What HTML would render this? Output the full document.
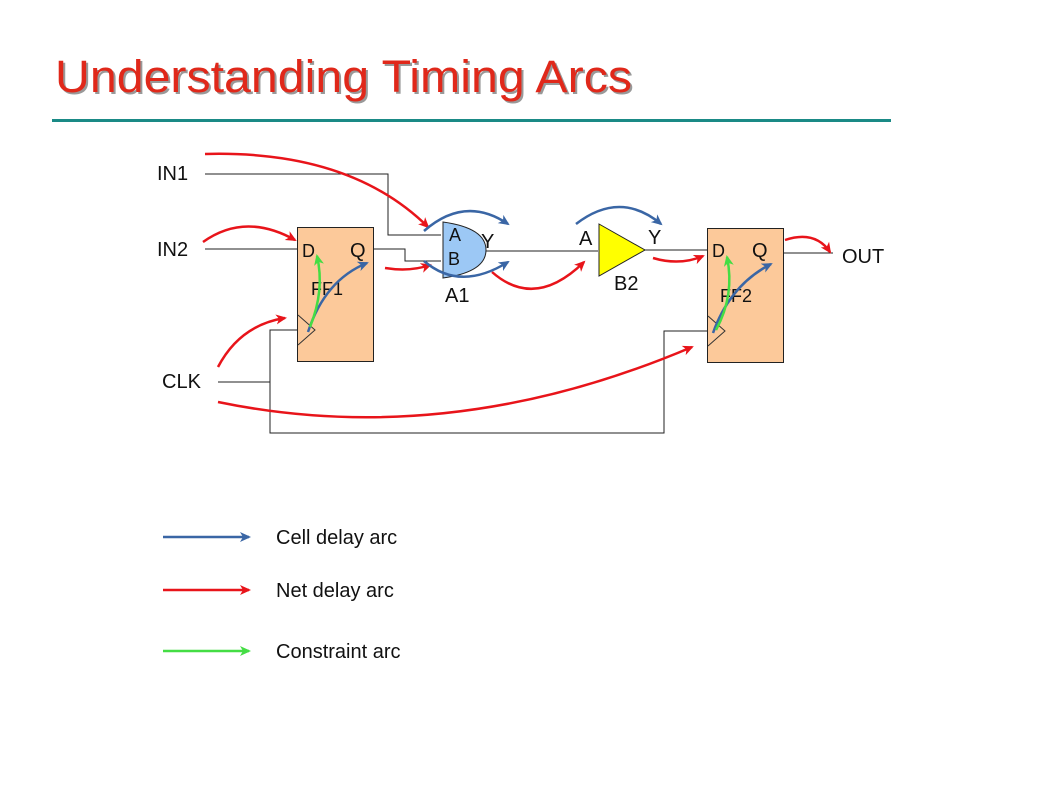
<!DOCTYPE html>
<html><head><meta charset="utf-8"><style>html,body{margin:0;padding:0;background:#fff}svg{display:block}</style></head>
<body>
<svg width="1059" height="795" viewBox="0 0 1059 795" xmlns="http://www.w3.org/2000/svg" font-family="Liberation Sans, Arial, sans-serif">
<defs>
<marker id="r" markerWidth="12" markerHeight="12" refX="9" refY="6" orient="auto" markerUnits="userSpaceOnUse"><path d="M0,1 L11,6 L0,11 L3,6 z" fill="#e8141a"/></marker>
<marker id="b" markerWidth="12" markerHeight="12" refX="9" refY="6" orient="auto" markerUnits="userSpaceOnUse"><path d="M0,1 L11,6 L0,11 L3,6 z" fill="#3a66a5"/></marker>
<marker id="g" markerWidth="12" markerHeight="12" refX="9" refY="6" orient="auto" markerUnits="userSpaceOnUse"><path d="M0,1 L11,6 L0,11 L3,6 z" fill="#44dd44"/></marker>
</defs>
<text x="57" y="94" font-size="45" fill="#999" textLength="577" lengthAdjust="spacingAndGlyphs">Understanding Timing Arcs</text>
<text x="55" y="92" font-size="45" fill="#e0281a" textLength="577" lengthAdjust="spacingAndGlyphs">Understanding Timing Arcs</text>
<rect x="52" y="119" width="839" height="3" fill="#1a8a86"/>

<g stroke="#222" stroke-width="1" fill="none">
<polyline points="205,174 388,174 388,235 441,235"/>
<line x1="205" y1="249" x2="297" y2="249"/>
<polyline points="373,249 405,249 405,261 441,261"/>
<line x1="486" y1="251" x2="598" y2="251"/>
<line x1="645" y1="250" x2="707" y2="250"/>
<line x1="783" y1="253" x2="833" y2="253"/>
<polyline points="218,382 270,382"/>
<polyline points="297,330 270,330 270,433 664,433 664,331 707,331"/>
</g>
<rect x="297.5" y="227.5" width="76" height="134" fill="#fcc99a" stroke="#222"/>
<polyline points="298,315 315,330 298,345" fill="none" stroke="#333"/>
<rect x="707.5" y="228.5" width="76" height="134" fill="#fcc99a" stroke="#222"/>
<polyline points="708,316 725,331 708,346" fill="none" stroke="#333"/>
<path d="M443,222 L443,278 Q486,272 486,250 Q486,228 443,222 z" fill="#9cc8f5" stroke="#222"/>
<path d="M599,224 L645,250 L599,276 z" fill="#ffff00" stroke="#222"/>

<g font-size="20" fill="#111">
<text x="157" y="180">IN1</text>
<text x="157" y="256">IN2</text>
<text x="162" y="388">CLK</text>
<text x="842" y="263">OUT</text>
<text x="449" y="241" font-size="18">A</text>
<text x="448" y="265" font-size="18">B</text>
<text x="481" y="248">Y</text>
<text x="445" y="302">A1</text>
<text x="579" y="245">A</text>
<text x="648" y="244">Y</text>
<text x="614" y="290">B2</text>
<text x="302" y="257" font-size="18">D</text>
<text x="350" y="257">Q</text>
<text x="311" y="295" font-size="18">FF1</text>
<text x="712" y="257" font-size="18">D</text>
<text x="752" y="257">Q</text>
<text x="720" y="302" font-size="18">FF2</text>
</g>

<g stroke="#e8141a" stroke-width="2.5" fill="none" marker-end="url(#r)">
<path d="M205,154 Q350,150 428,227"/>
<path d="M203,242 Q245,212 295,240"/>
<path d="M218,367 Q240,325 285,318"/>
<path d="M218,402 Q450,450 692,347"/>
<path d="M385,268 Q410,272 430,265"/>
<path d="M492,272 Q535,310 584,262"/>
<path d="M653,258 Q680,266 703,256"/>
<path d="M785,240 Q815,230 830,252"/>
</g>
<g stroke="#3a66a5" stroke-width="2.5" fill="none" marker-end="url(#b)">
<path d="M424,231 Q465,195 508,224"/>
<path d="M424,261 Q460,292 508,262"/>
<path d="M576,224 Q620,190 661,224"/>
<path d="M308,332 Q325,280 367,263"/>
<path d="M713,333 Q730,285 771,264"/>
</g>
<g stroke="#44dd44" stroke-width="2.5" fill="none" marker-end="url(#g)">
<path d="M310,327 Q325,290 317,256"/>
<path d="M716,330 Q735,295 727,257"/>
</g>

<line x1="163" y1="537" x2="249" y2="537" stroke="#3a66a5" stroke-width="2.5" marker-end="url(#b)"/>
<line x1="163" y1="590" x2="249" y2="590" stroke="#e8141a" stroke-width="2.5" marker-end="url(#r)"/>
<line x1="163" y1="651" x2="249" y2="651" stroke="#44dd44" stroke-width="2.5" marker-end="url(#g)"/>
<g font-size="20" fill="#111">
<text x="276" y="544">Cell delay arc</text>
<text x="276" y="597">Net delay arc</text>
<text x="276" y="658">Constraint arc</text>
</g>
</svg>
</body></html>
